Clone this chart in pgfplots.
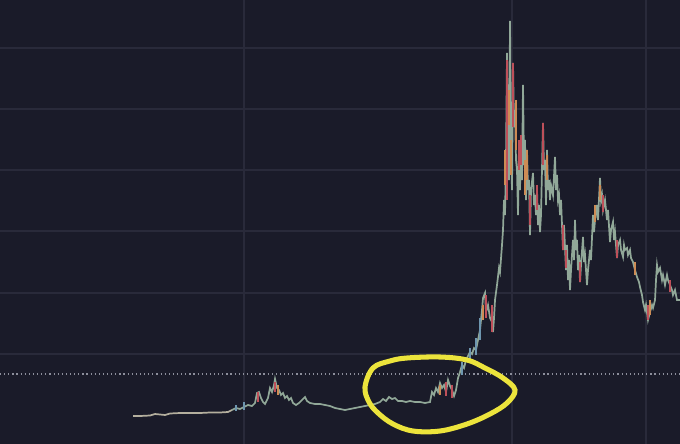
\documentclass[border=0pt]{standalone}
\usepackage{pgfplots}
\pgfplotsset{compat=1.18}
\definecolor{bg}{RGB}{26,27,41}
\definecolor{gridc}{RGB}{41,42,58}
\definecolor{candle}{RGB}{145,168,152}
\definecolor{flat}{RGB}{180,175,158}
\definecolor{cred}{RGB}{190,80,90}
\definecolor{corange}{RGB}{205,140,85}
\definecolor{cblue}{RGB}{110,150,175}
\definecolor{marker}{RGB}{236,228,60}
\definecolor{dotc}{RGB}{140,142,155}
\begin{document}
\begin{tikzpicture}
\begin{axis}[
  width=18cm, height=11.753cm, scale only axis,
  xmin=0, xmax=680, ymin=0, ymax=444, y dir=reverse,
  axis background/.style={fill=bg},
  axis line style={draw=none},
  xtick=\empty, ytick=\empty,
  clip=true,
  unbounded coords=jump,
]
% grid lines
\addplot[gridc, line width=1.2pt] coordinates {
(0,48)(680,48)(680,nan)(0,109)(680,109)(680,nan)(0,170)(680,170)(680,nan)
(0,231)(680,231)(680,nan)(0,293)(680,293)(680,nan)(0,354)(680,354)(680,nan)
(244,0)(244,444)(244,nan)(512,0)(512,444)(512,nan)(646,0)(646,444)
};
% dotted reference level
\addplot[dotc, line width=1pt, dash pattern=on 0.9pt off 2.2pt] coordinates {(0,374) (680,374)};

% price path (pixel coordinates, high/low zigzag)
\addplot[flat, line width=1.3pt] coordinates {
(133,416)(140,416)(150,415.5)(155,414)(160,414.5)(165,415)(170,413.5)(180,413)(190,413)(200,413)(210,412.5)(220,412.5)(228,412)(232,410)
};
\addplot[candle, line width=1.3pt] coordinates {
(232,410)(236,408)(240,409)(244,407)(248,405)(252,406)(255,403)(257,393)(259,392)(261,398)(263,402)(265,404)(268,398)(270,388)(272,392)(274,385)(275,379)(277,388)(279,390)(281,395)(283,393)(285,398)(287,396)(289,400)(291,398)(293,403)(296,405)(299,403)(302,400)(305,397)(307,401)(310,403)(315,404)(320,404)(325,405)(330,406)(335,408)(340,409)(345,410)(350,409)(355,408)(360,407)(365,406)(370,405)(375,404)(380,402)(383,399)(386,401)(389,397)(392,399)(395,398)(398,401)(402,401)(406,402)(410,401)(415,402)(420,402)(425,403)(430,402)(432,392)(434,395)(436,388)(438,392)(440,383)(442,388)(444,385)(446,392)(448,380)(450,386)(452,390)(454,396)(456,390)(458,378)(460,372)(462,365)(464,368)(466,360)(468,356)(470,352)(472,354)(474,348)(476,350)(478,340)(480,330)(482,310)(483,298)(485,293)(486,312)(488,305)(490,318)(492,322)(493,332)(494,318)(495,300)(497,285)(499,268)(500,272)(502,245)(503,230)(504,200)(505,215)(506,160)(507,53)(508,120)(509,180)(510,21)(511,150)(512,190)(513,63)(514,127)(515,110)(516,160)(517,170)(518,215)(519,145)(520,190)(521,140)(522,180)(523,85)(524,165)(525,140)(526,200)(527,150)(528,190)(529,180)(530,235)(531,190)(533,173)(534,205)(535,195)(536,215)(537,190)(538,225)(539,205)(540,232)(541,215)(543,123)(544,170)(545,160)(546,205)(547,150)(548,190)(549,180)(550,200)(551,185)(553,195)(555,157)(556,190)(557,175)(558,200)(559,195)(560,215)(561,200)(563,250)(564,225)(566,270)(567,245)(568,280)(569,260)(570,290)(571,270)(573,240)(574,260)(575,220)(576,250)(577,240)(578,270)(579,255)(580,282)(581,265)(583,237)(584,262)(585,255)(587,285)(588,270)(590,250)(591,260)(593,215)(594,232)(595,220)(597,205)(598,220)(600,178)(601,200)(602,195)(603,210)(605,200)(607,220)(608,210)(610,242)(611,230)(613,222)(614,240)(615,232)(617,258)(618,245)(620,240)(621,250)(623,257)(624,245)(625,250)(627,248)(628,255)(630,250)(631,258)(633,262)(635,270)(637,277)(639,282)(640,287)(642,295)(643,302)(645,310)(646,305)(648,320)(650,312)(652,305)(653,308)(655,300)(656,280)(657,265)(658,272)(660,268)(662,280)(663,275)(665,285)(667,275)(668,280)(670,285)(672,290)(673,295)(675,290)(677,300)(680,300)
};

% blue candles in the breakout
\addplot[cblue, line width=1.4pt] coordinates {
(462,375)(462,362)(462,nan)(470,360)(470,348)(470,nan)(476,355)(476,338)(476,nan)(480,340)(480,318)(480,nan)(244,410)(244,402)(244,nan)(236,411)(236,405)
};

% red candles
\addplot[cred, line width=1.5pt] coordinates {
(507,60)(507,200)(507,nan)(513,63)(513,127)(513,nan)(519,140)(519,170)(519,nan)(543,123)(543,165)(543,nan)
(492,305)(492,332)(492,nan)(486,295)(486,318)(486,nan)(563,225)(563,250)(563,nan)(580,262)(580,282)(580,nan)
(603,195)(603,212)(603,nan)(617,240)(617,258)(617,nan)(648,305)(648,320)(648,nan)(670,280)(670,292)(670,nan)
(446,382)(446,396)(446,nan)(452,385)(452,398)(452,nan)(275,382)(275,392)(275,nan)(258,392)(258,402)(258,nan)
(521,135)(521,165)(521,nan)(530,195)(530,225)(530,nan)(537,185)(537,210)(537,nan)(566,250)(566,268)(566,nan)
};

% orange candles
\addplot[corange, line width=1.5pt] coordinates {
(509,90)(509,125)(509,nan)(516,100)(516,150)(516,nan)(525,160)(525,195)(525,nan)(600,185)(600,200)(600,nan)
(483,305)(483,320)(483,nan)(278,385)(278,395)(278,nan)(440,385)(440,395)(440,nan)(635,262)(635,275)(635,nan)
(595,205)(595,222)(595,nan)(650,300)(650,315)(650,nan)(511,140)(511,175)(511,nan)(505,150)(505,185)(505,nan)
(527,150)(527,180)(527,nan)(547,155)(547,180)
};

% hand-drawn highlight
\addplot[marker, line width=3.8pt, smooth cycle, tension=0.6] coordinates {
(365,387)(373,368)(390,361)(407,358)(440,357)(467,360)(485,368)(503,378)(515,390)(507,403)(490,414)(467,424)(440,431)(413,431)(393,424)(378,413)(369,402)
};
\end{axis}
\end{tikzpicture}
\end{document}
